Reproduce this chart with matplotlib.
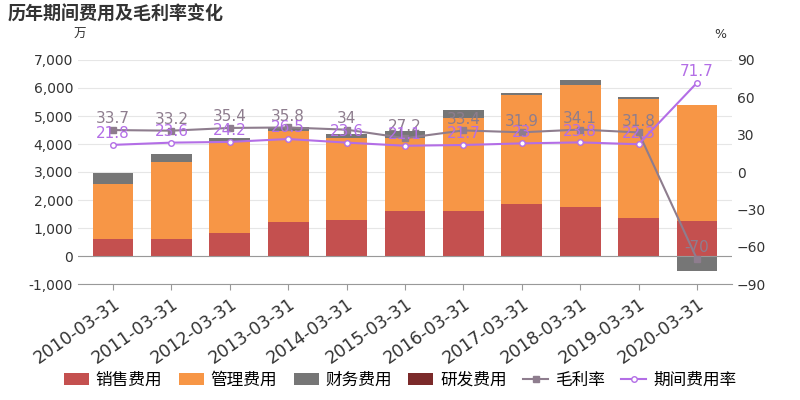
import matplotlib
matplotlib.use("Agg")
import matplotlib.pyplot as plt
import numpy as np

plt.rcParams['font.family'] = ['DejaVu Sans', 'Noto Sans CJK SC']

dates = ["2010-03-31","2011-03-31","2012-03-31","2013-03-31","2014-03-31","2015-03-31",
         "2016-03-31","2017-03-31","2018-03-31","2019-03-31","2020-03-31"]
sales = [600, 620, 830, 1230, 1270, 1600, 1600, 1860, 1760, 1340, 1260]
admin = [1980, 2740, 3250, 3220, 2950, 2630, 3330, 3890, 4340, 4270, 4140]
finance = [400, 300, 120, 150, 130, 220, 290, 70, 180, 80, -520]
rnd = [0]*11
gross = [33.7, 33.2, 35.4, 35.8, 34, 27.2, 33.4, 31.9, 34.1, 31.8, -70]
period = [21.8, 23.6, 24.2, 26.5, 23.6, 21.1, 21.7, 23, 23.8, 22.3, 71.7]

fig = plt.figure(figsize=(8, 4), dpi=100)
ax = fig.add_axes([0.0975, 0.29, 0.8175, 0.56])
x = np.arange(len(dates))
w = 0.7
ax.bar(x, sales, w, color='#c4504f', label='销售费用', zorder=2)
ax.bar(x, admin, w, bottom=sales, color='#f79646', label='管理费用', zorder=2)
fb = [s + a if f >= 0 else 0 for s, a, f in zip(sales, admin, finance)]
ax.bar(x, finance, w, bottom=fb, color='#767676', label='财务费用', zorder=2)
ax.bar(x, rnd, w, color='#7b2a2a', label='研发费用', zorder=2)
ax.set_ylim(-1000, 7000)
ax.set_yticks(range(-1000, 7001, 1000))
ax.set_yticklabels([f"{v:,}" for v in range(-1000, 7001, 1000)], fontsize=10, color='#333')
ax.set_xlim(-0.6, len(dates) - 0.4)
ax.set_xticks(x)
ax.set_xticklabels(dates, rotation=35, ha='right', fontsize=12.5, color='#333', rotation_mode='anchor')
ax.grid(axis='y', color='#e6e6e6', zorder=0)
for s in ['top', 'right', 'left']:
    ax.spines[s].set_visible(False)
ax.spines['bottom'].set_color('#999')
ax.tick_params(axis='y', length=0)
ax.tick_params(axis='x', length=4, color='#999')
ax.axhline(0, color='#999', lw=0.8)

ax2 = ax.twinx()
ax2.set_ylim(-90, 90)
ax2.set_yticks(range(-90, 91, 30))
ax2.tick_params(axis='y', length=0, labelsize=10, labelcolor='#333')
for s in ax2.spines.values():
    s.set_visible(False)
ax2.plot(x, gross, color='#8e7d8e', marker='s', ms=4, lw=1.5, label='毛利率')
ax2.plot(x, period, color='#b36ee6', marker='o', ms=4, mfc='white', lw=1.5, label='期间费用率')
for i in range(len(x)):
    ax2.text(x[i], gross[i] + 3, f"{gross[i]:g}", ha='center', va='bottom', fontsize=11, color='#8e7d8e')
    ax2.text(x[i], period[i] + 3, f"{period[i]:g}", ha='center', va='bottom', fontsize=11, color='#b36ee6')

fig.text(0.01, 0.965, '历年期间费用及毛利率变化', fontsize=13, fontweight='bold', color='#333', va='center',
         fontfamily='Noto Sans CJK SC')
fig.text(0.1, 0.905, '万', fontsize=9, color='#333', ha='center', fontfamily='Noto Sans CJK SC')
fig.text(0.9, 0.905, '%', fontsize=9, color='#333', ha='center')

h1, l1 = ax.get_legend_handles_labels()
h2, l2 = ax2.get_legend_handles_labels()
fig.legend(h1 + h2, l1 + l2, loc='lower center', bbox_to_anchor=(0.5, -0.01), ncol=6, frameon=False,
           prop={'family': 'Noto Sans CJK SC', 'size': 12}, handlelength=1.5, columnspacing=1.0,
           handletextpad=0.4)
fig.savefig('out.png')
